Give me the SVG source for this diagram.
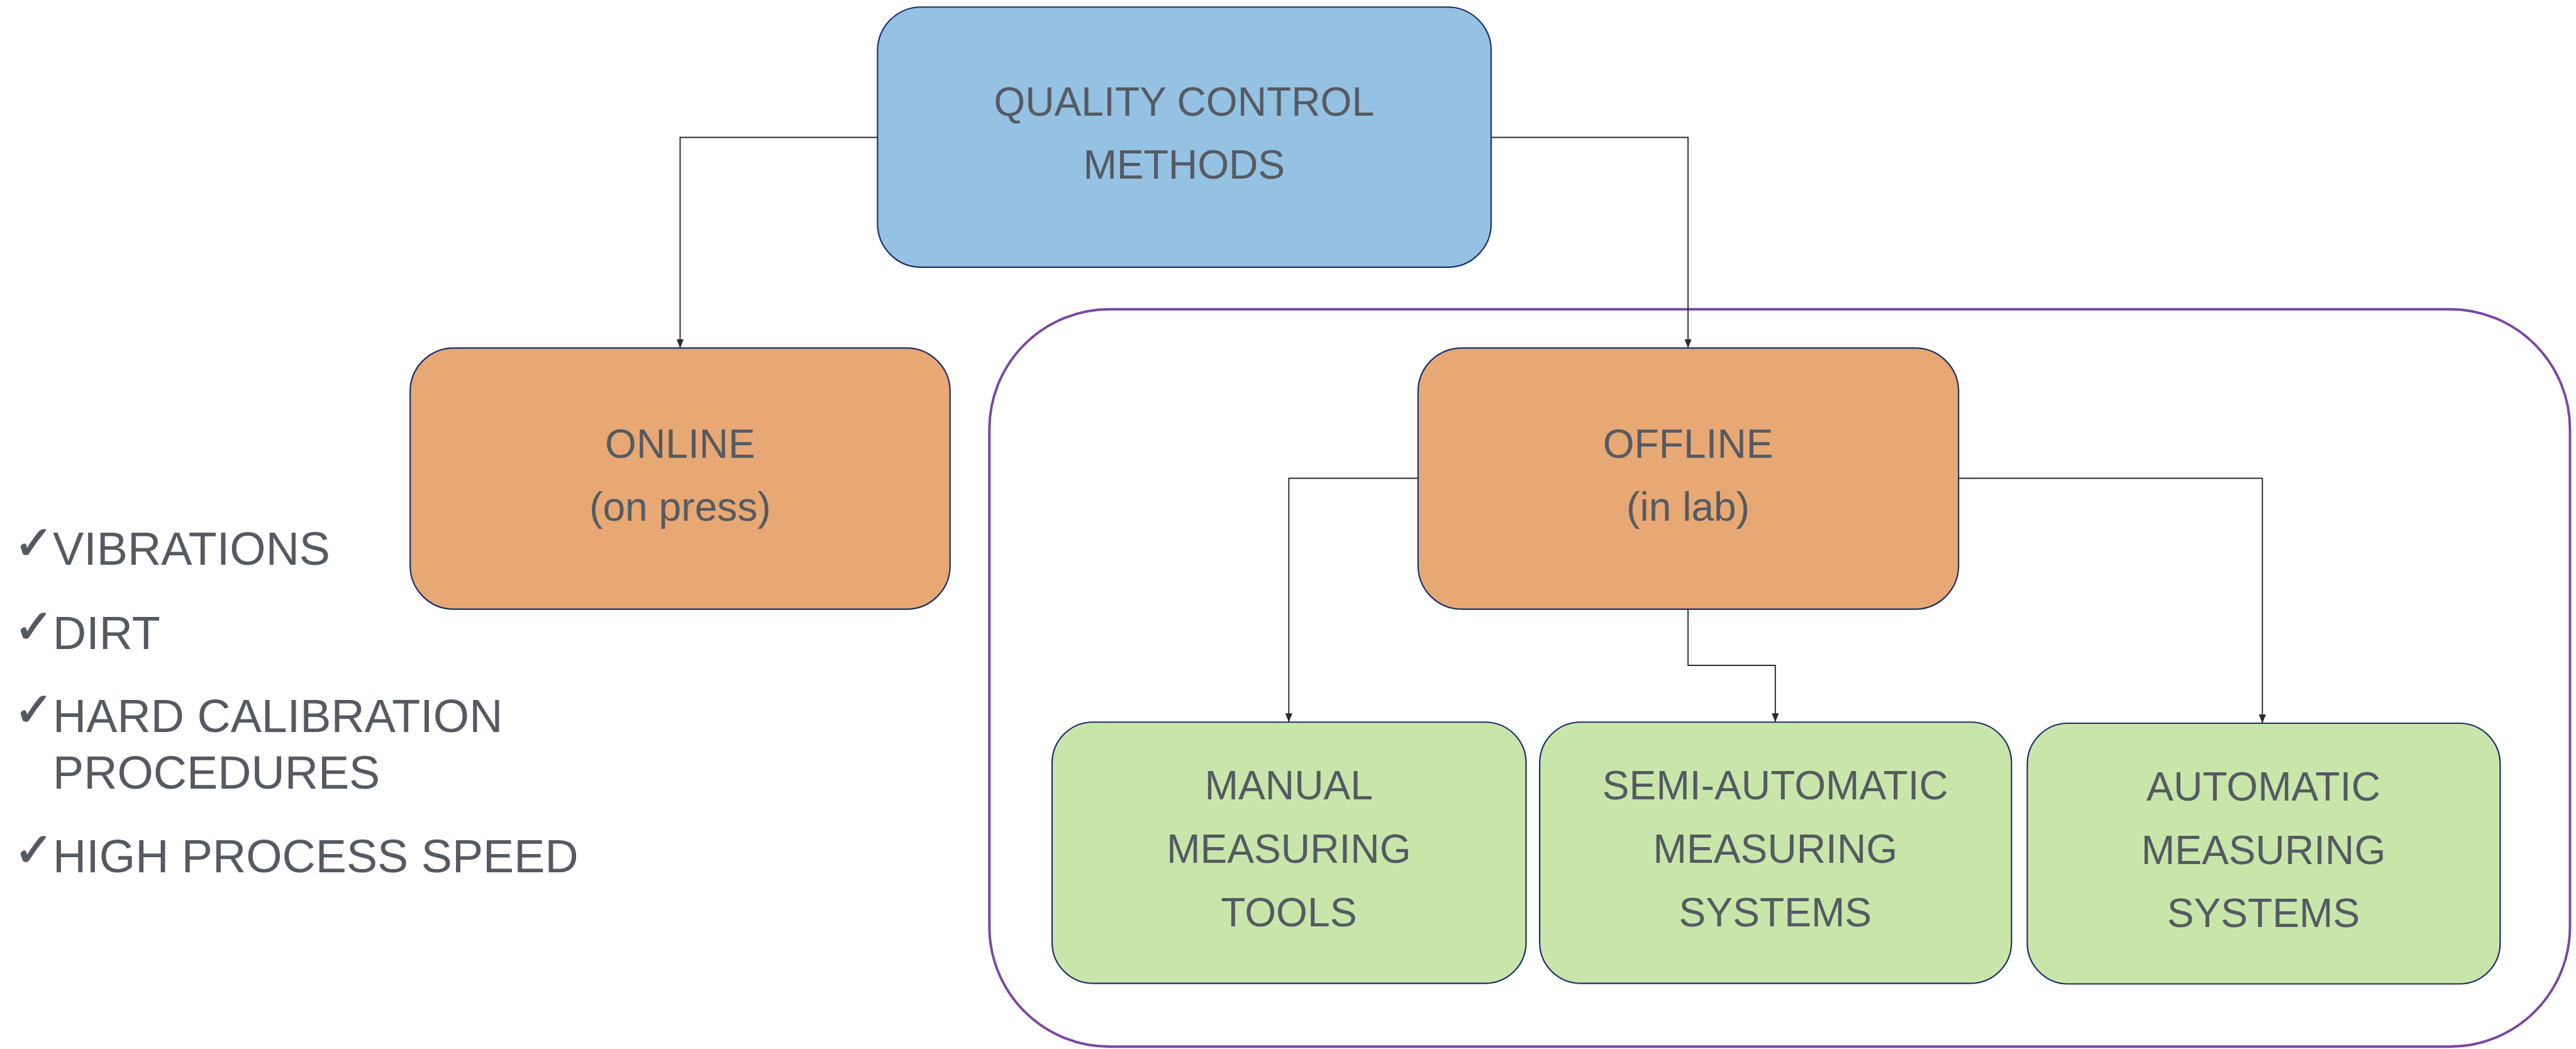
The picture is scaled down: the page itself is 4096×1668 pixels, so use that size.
<svg xmlns="http://www.w3.org/2000/svg" width="4096" height="1668" viewBox="0 0 4096 1668">
<style>
.box{stroke:#1b2d6b;stroke-width:2.5}
.blue{fill:#95c1e3}
.orange{fill:#e7a874}
.green{fill:#c9e6aa}
.t{font-family:"Liberation Sans",Arial,sans-serif;font-size:74px;fill:#555a62;text-anchor:middle}
.l{font-family:"Liberation Sans",Arial,sans-serif;font-size:85px;fill:#555a62}
.ck{font-family:"DejaVu Sans",sans-serif;font-size:86px;fill:#555a62;stroke:#555a62;stroke-width:2}
.c{fill:none;stroke:#2b2b2b;stroke-width:2.2;marker-end:url(#ah)}
</style>
<defs>
<marker id="ah" markerUnits="userSpaceOnUse" markerWidth="16" markerHeight="16" viewBox="0 0 16 16" refX="16" refY="8" orient="auto">
<path d="M0,1.5 L16,8 L0,14.5 Z" fill="#2b2b2b"/>
</marker>
</defs>
<rect width="4096" height="1668" fill="#ffffff"/>
<g transform="scale(0.86724)">
<g id="offline-group">
<rect x="1814" y="567" width="2898" height="1352" rx="220" ry="220" fill="none" stroke="#7c45a4" stroke-width="4.5"/>
</g>
<g id="connectors">
<path class="c" d="M1609,252 H1247 V638"/>
<path class="c" d="M2734,252 H3095 V638"/>
<path class="c" d="M2600,877 H2363 V1324"/>
<path class="c" d="M3095,1117 V1220 H3255 V1324"/>
<path class="c" d="M3591,877 H4148 V1326"/>
</g>
<g id="quality-control-methods">
<rect class="box blue" x="1609" y="13" width="1125" height="477" rx="80" ry="80"/>
<text class="t" x="2171" y="212">QUALITY CONTROL</text>
<text class="t" x="2171" y="328">METHODS</text>
</g>
<g id="online">
<rect class="box orange" x="752" y="638" width="990" height="479" rx="80" ry="80"/>
<text class="t" x="1247" y="839">ONLINE</text>
<text class="t" x="1247" y="955">(on press)</text>
</g>
<g id="offline">
<rect class="box orange" x="2600" y="638" width="991" height="479" rx="80" ry="80"/>
<text class="t" x="3095" y="839">OFFLINE</text>
<text class="t" x="3095" y="955">(in lab)</text>
</g>
<g id="manual">
<rect class="box green" x="1929" y="1324" width="869" height="479" rx="75" ry="75"/>
<text class="t" x="2363" y="1466">MANUAL</text>
<text class="t" x="2363" y="1582">MEASURING</text>
<text class="t" x="2363" y="1698">TOOLS</text>
</g>
<g id="semi-automatic">
<rect class="box green" x="2823" y="1324" width="865" height="479" rx="75" ry="75"/>
<text class="t" x="3255" y="1466">SEMI-AUTOMATIC</text>
<text class="t" x="3255" y="1582">MEASURING</text>
<text class="t" x="3255" y="1698">SYSTEMS</text>
</g>
<g id="automatic">
<rect class="box green" x="3717" y="1326" width="867" height="478" rx="75" ry="75"/>
<text class="t" x="4150" y="1468">AUTOMATIC</text>
<text class="t" x="4150" y="1584">MEASURING</text>
<text class="t" x="4150" y="1700">SYSTEMS</text>
</g>
<g id="online-issues">
<text class="ck" x="26" y="1025">✓</text>
<text class="l" x="97" y="1036">VIBRATIONS</text>
<text class="ck" x="26" y="1179">✓</text>
<text class="l" x="97" y="1190">DIRT</text>
<text class="ck" x="26" y="1331">✓</text>
<text class="l" x="97" y="1342">HARD CALIBRATION</text>
<text class="l" x="97" y="1446">PROCEDURES</text>
<text class="ck" x="26" y="1588">✓</text>
<text class="l" x="97" y="1599">HIGH PROCESS SPEED</text>
</g>
</g>
</svg>
